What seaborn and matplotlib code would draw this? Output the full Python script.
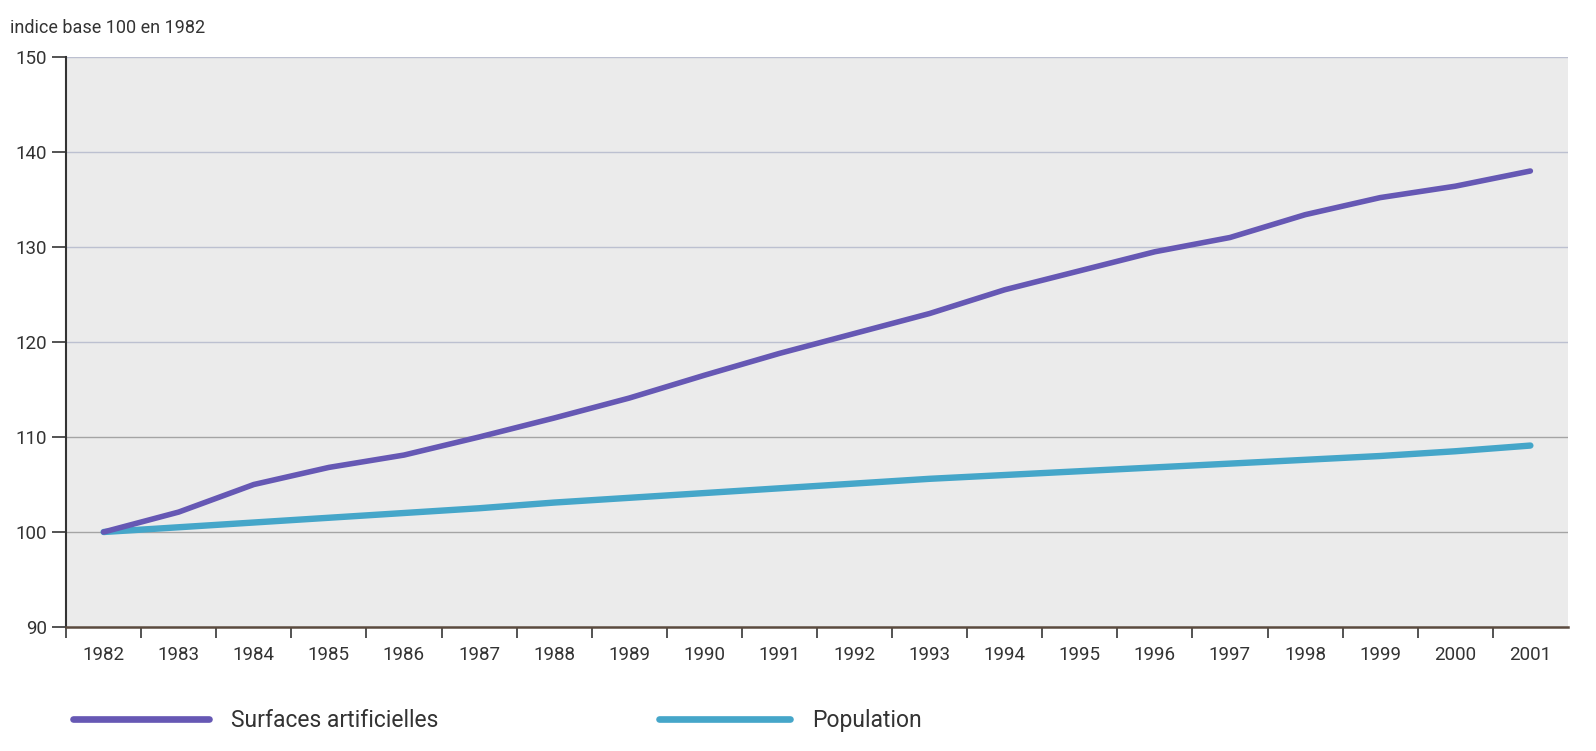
import matplotlib
matplotlib.use("Agg")
import matplotlib.pyplot as plt
from matplotlib.ticker import FixedLocator
from matplotlib.lines import Line2D
import seaborn as sns
import pandas as pd

years = [1982, 1983, 1984, 1985, 1986, 1987, 1988, 1989, 1990, 1991,
         1992, 1993, 1994, 1995, 1996, 1997, 1998, 1999, 2000, 2001]
surfaces = [100.0, 102.1, 105.0, 106.8, 108.1, 110.0, 112.0, 114.1, 116.5, 118.8,
            120.9, 123.0, 125.5, 127.5, 129.5, 131.0, 133.4, 135.2, 136.4, 138.0]
population = [100.0, 100.5, 101.0, 101.5, 102.0, 102.5, 103.1, 103.6, 104.1, 104.6,
              105.1, 105.6, 106.0, 106.4, 106.8, 107.2, 107.6, 108.0, 108.5, 109.1]
yticks = [90, 100, 110, 120, 130, 140, 150]
series_names = ["Surfaces artificielles", "Population"]
colors = ["#6658b4", "#45a6c9"]

sns.set_theme(style="white")
plt.rcParams['font.family'] = ['Roboto', 'DejaVu Sans']

idx = list(range(len(years)))
df = pd.DataFrame({
    "pos": idx + idx,
    "value": surfaces + population,
    "serie": [series_names[0]] * len(years) + [series_names[1]] * len(years),
})

fig = plt.figure(figsize=(15.96, 7.51), dpi=100)
fig.patch.set_facecolor("white")
ax = fig.add_axes([0.0414, 0.1651, 0.941, 0.759])
ax.set_facecolor("#ebebeb")

sns.lineplot(data=df[df.serie == series_names[0]], x="pos", y="value",
             color=colors[0], linewidth=4.0, ax=ax, legend=False,
             solid_capstyle="round", zorder=4)
sns.lineplot(data=df[df.serie == series_names[1]], x="pos", y="value",
             color=colors[1], linewidth=4.6, ax=ax, legend=False,
             solid_capstyle="round", zorder=3)

ax.set_xlim(-0.5, len(years) - 0.5)
ax.set_ylim(90, 150)
ax.set_yticks(yticks)
ax.set_yticklabels([str(t) for t in yticks], fontsize=13.5, color="#333333")
ax.set_xticks(idx)
ax.set_xticklabels([str(y) for y in years], fontsize=13.5, color="#333333")
ax.xaxis.set_minor_locator(FixedLocator([i - 0.5 for i in idx]))
ax.tick_params(axis="x", which="major", bottom=False, length=0, pad=14)
ax.tick_params(axis="x", which="minor", bottom=True, length=8, width=1.3,
               color="#444444", direction="out")
ax.tick_params(axis="y", which="major", left=True, length=10, width=1.3,
               color="#444444", direction="out", pad=4)

for t in yticks[1:]:
    c = "#a4a4a4" if t <= 110 else "#bcc0d0"
    ax.axhline(t, color=c, linewidth=1.0, zorder=1)

for s in ["top", "right"]:
    ax.spines[s].set_visible(False)
ax.spines["left"].set_color("#333333")
ax.spines["left"].set_linewidth(1.5)
ax.spines["bottom"].set_color("#5a4a3e")
ax.spines["bottom"].set_linewidth(1.8)
ax.set_xlabel("")
ax.set_ylabel("")

fig.text(0.006, 0.963, "indice base 100 en 1982", fontsize=13, color="#333333", va="center")

h = [Line2D([0], [0], color=colors[0], linewidth=4.8, solid_capstyle="round"),
     Line2D([0], [0], color=colors[1], linewidth=4.8, solid_capstyle="round")]
leg1 = fig.legend([h[0]], [series_names[0]], loc="center left", bbox_to_anchor=(0.033, 0.04),
                  frameon=False, fontsize=16.5, handlelength=5.9, handletextpad=1.0)
for t in leg1.get_texts():
    t.set_color("#333333")
leg2 = fig.legend([h[1]], [series_names[1]], loc="center left", bbox_to_anchor=(0.400, 0.04),
                  frameon=False, fontsize=16.5, handlelength=5.7, handletextpad=1.0)
for t in leg2.get_texts():
    t.set_color("#333333")

fig.savefig("out.png", dpi=100, facecolor="white")
